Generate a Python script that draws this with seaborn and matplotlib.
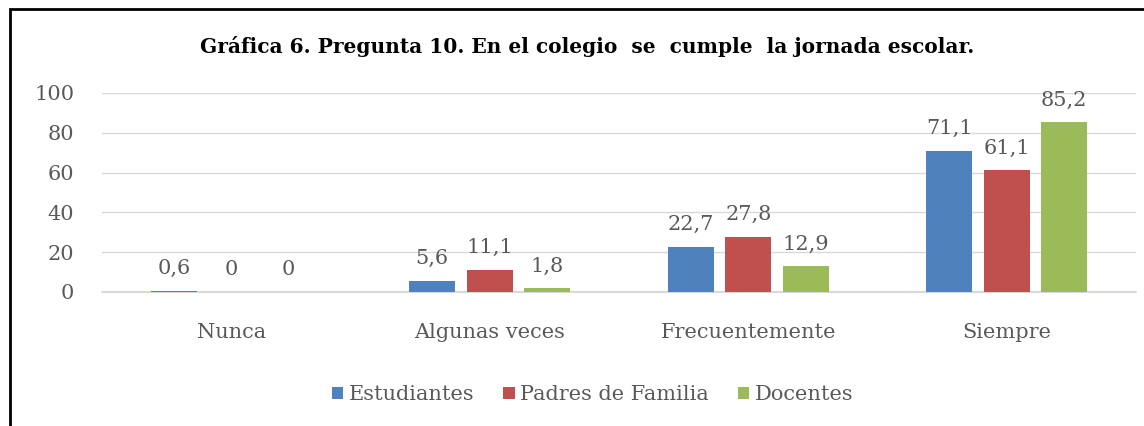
import seaborn as sns
import pandas as pd
import matplotlib.pyplot as plt
from matplotlib.patches import Rectangle

# data
categorias = ["Nunca", "Algunas veces", "Frecuentemente", "Siempre"]
grupos = ["Estudiantes", "Padres de Familia", "Docentes"]
estudiantes = [0.6, 5.6, 22.7, 71.1]
padres = [0, 11.1, 27.8, 61.1]
docentes = [0, 1.8, 12.9, 85.2]
colores = ["#4F81BD", "#C0504D", "#9BBB59"]
titulo = "Gráfica 6. Pregunta 10. En el colegio  se  cumple  la jornada escolar."

# long format table for seaborn
df = pd.DataFrame({
    "Categoria": categorias * 3,
    "Grupo": [g for g in grupos for _ in categorias],
    "Valor": estudiantes + padres + docentes,
})

sns.set_style("white")
plt.rcParams['font.family'] = ['DejaVu Serif']
gris = "#595959"

fig = plt.figure(figsize=(11.44, 4.26), dpi=100)
ax = fig.add_axes([0.0892, 0.3146, 0.9038, 0.4671])

sns.barplot(data=df, x="Categoria", y="Valor", hue="Grupo", palette=colores,
            saturation=1, width=0.667, gap=0.2, linewidth=0, edgecolor="none",
            ax=ax, legend=True)

#value labels with comma decimal
for cont in ax.containers:
    etiquetas = [f"{b.get_height():g}".replace(".", ",") for b in cont]
    ax.bar_label(cont, labels=etiquetas, padding=9, fontsize=15, color=gris)

ax.set_ylim(0, 100)
ax.set_yticks(range(0, 101, 20))
ax.set_xlim(-0.5, 3.5)
ax.yaxis.grid(True, color="#D9D9D9", linewidth=1)
ax.axhline(0, color="#D9D9D9", linewidth=1.5, clip_on=False, zorder=0.5)
ax.set_axisbelow(True)
for s in ax.spines.values():
    s.set_visible(False)
ax.tick_params(axis="y", length=0, pad=20, labelsize=15, labelcolor=gris)
ax.tick_params(axis="x", length=0, pad=22, labelsize=15, labelcolor=gris)
ax.set_xlabel("")
ax.set_ylabel("")

# legend under the plot
h, l = ax.get_legend_handles_labels()
ax.get_legend().remove()
fig.legend(h, l, loc="center", bbox_to_anchor=(0.518, 0.073), ncol=3, frameon=False,
           fontsize=15, labelcolor=gris, handlelength=0.55, handleheight=0.55,
           handletextpad=0.25, columnspacing=1.4)

fig.text(0.513, 0.89, titulo, ha="center", va="center", fontsize=14.5,
         fontweight="bold", color="black")

# black frame, only top and left edges visible
fig.patches.append(Rectangle((10 / 1144, -0.1), 1.2, 1.1 - 9 / 426,
                             transform=fig.transFigure, fill=False,
                             edgecolor="black", linewidth=2, clip_on=False))

fig.savefig("out.png", dpi=100, facecolor="white")
